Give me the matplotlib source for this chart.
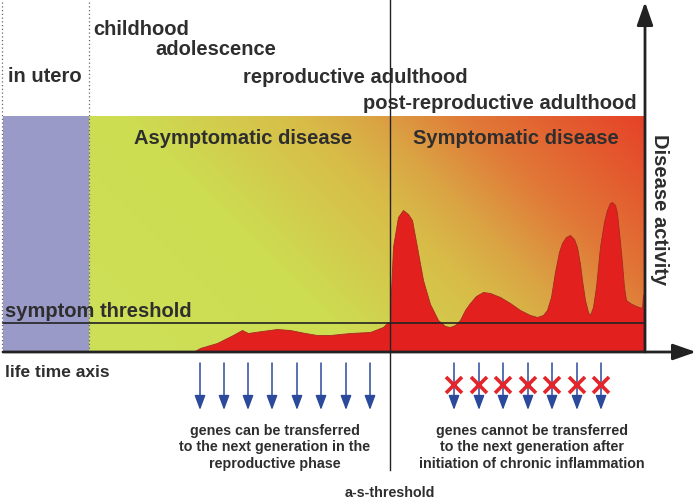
import numpy as np
import matplotlib
matplotlib.use("Agg")
import matplotlib.pyplot as plt
from matplotlib.colors import LinearSegmentedColormap

# ---------------- data (schematic units: x = life time, y = disease activity) -------------
life_x = [193, 200, 217, 233, 242, 248, 262, 277, 290, 305, 317, 330, 350, 370, 383, 388, 390,
          391, 393, 398, 403, 408, 412, 417, 423, 430, 438, 445, 450, 455, 460, 465, 470, 476,
          483, 490, 500, 510, 520, 530, 537, 543, 547, 551, 555, 559, 562, 566, 570, 574, 577,
          580, 582, 585, 588, 590, 593, 596, 600, 604, 607, 610, 612, 615, 617, 620, 622, 624,
          626, 630, 636, 642, 643, 645]
activity = [0, 4, 9, 17, 22, 19, 21, 23, 22, 19, 17, 17, 19, 20, 25, 30, 29,
            60, 105, 135, 142, 138, 132, 105, 72, 48, 32, 26, 25, 27, 32, 42, 49, 56,
            60, 59, 55, 49, 42, 37, 35, 37, 42, 55, 80, 100, 109, 115, 117, 113, 105,
            88, 72, 52, 40, 37, 45, 65, 105, 130, 142, 149, 150, 147, 139, 110, 89, 65,
            52, 49, 46, 44, 57, 60]

stage_labels = ["childhood", "adolescence", "reproductive adulthood", "post-reproductive adulthood"]
stage_x = [93, 155, 243, 363]
stage_y = [317, 297, 269, 243]

utero_start, utero_end = 3, 89
axis_end = 645
symptom_threshold = 29
as_threshold = 390
region_top = 236

left_arrows = [200, 224, 248, 272, 297, 321, 346, 370]
right_arrows = [454, 479, 503, 528, 552, 577, 601]

left_note = ["genes can be transferred", "to the next generation in the", "reproductive phase"]
right_note = ["genes cannot be transferred", "to the next generation after", "initiation of chronic inflammation"]

# ---------------- figure ----------------
fig = plt.figure(figsize=(7.0, 5.01), dpi=100)
ax = fig.add_axes([0, 0, 1, 1])
ax.set_xlim(0, 700)
ax.set_ylim(-149, 352)
ax.axis("off")

txt = "#2e2e2e"
font = dict(family=["Liberation Sans", "DejaVu Sans"], weight="bold", color=txt)

# in utero region
ax.add_patch(plt.Rectangle((utero_start, 0), utero_end - utero_start, region_top,
                           facecolor="#9a9ac9", edgecolor="none", zorder=1))

# gradient region
nx, ny = 400, 200
gx = np.linspace(utero_end, axis_end, nx)
gy = np.linspace(0, region_top, ny)
GX, GY = np.meshgrid(gx, gy)
s = (GX - utero_end) + GY * 1.0
stops = [(0, (205, 224, 88)), (270, (205, 221, 82)), (445, (216, 188, 72)),
         (515, (218, 165, 68)), (618, (225, 120, 55)), (792, (230, 66, 40))]
smax = 792.0
cmap = LinearSegmentedColormap.from_list(
    "g", [(p / smax, tuple(c / 255 for c in col)) for p, col in stops])
ax.imshow(s / smax, extent=[utero_end, axis_end, 0, region_top], origin="lower",
          cmap=cmap, vmin=0, vmax=1, aspect="auto", interpolation="bilinear", zorder=1)

# disease activity area
ax.fill_between(life_x, 0, activity, facecolor="#e2211f", edgecolor="#a52a20",
                linewidth=0.6, zorder=2)

# dotted separators
for xv in (2, utero_end):
    ax.plot([xv, xv], [0, 352], color="#666666", lw=0.9, ls=(0, (1, 2)), zorder=3)

# symptom threshold line
ax.plot([utero_start, axis_end], [symptom_threshold, symptom_threshold],
        color="#222222", lw=1.2, zorder=4)

# a-s-threshold line
ax.plot([as_threshold, as_threshold], [-118, 352], color="#222222", lw=1.0, zorder=4)

# axes with arrows
ax.annotate("", xy=(696, 0), xytext=(utero_start, 0),
            arrowprops=dict(arrowstyle="-|>,head_length=1.0,head_width=0.35",
                            color="#222222", lw=2, shrinkA=0, shrinkB=0,
                            mutation_scale=14), zorder=5)
ax.annotate("", xy=(axis_end, 350), xytext=(axis_end, 0),
            arrowprops=dict(arrowstyle="-|>,head_length=1.0,head_width=0.35",
                            color="#222222", lw=2, shrinkA=0, shrinkB=0,
                            mutation_scale=14), zorder=5)

# gene transfer arrows
blue = "#2c4a9c"
for xv in left_arrows + right_arrows:
    ax.annotate("", xy=(xv, -58), xytext=(xv, -11),
                arrowprops=dict(arrowstyle="-|>,head_length=0.8,head_width=0.3",
                                color=blue, lw=1.1, shrinkA=0, shrinkB=0,
                                mutation_scale=11), zorder=5)
ax.plot(right_arrows, [-33] * len(right_arrows), ls="none", marker="x", ms=11,
        mew=2.6, color="#e2262b", zorder=6)

# texts
for lab, xv, yv in zip(stage_labels, stage_x, stage_y):
    ax.text(xv, yv, lab, fontsize=14.5, ha="left", va="baseline", **font)
ax.text(8, 270, "in utero", fontsize=14.5, ha="left", va="baseline", **font)
ax.text(134, 208, "Asymptomatic disease", fontsize=14.5, ha="left", va="baseline", **font)
ax.text(413, 208, "Symptomatic disease", fontsize=14.5, ha="left", va="baseline", **font)
ax.text(659, 142, "Disease activity", fontsize=14.5, ha="center", va="center",
        rotation=270, **font)
ax.text(5, 35, "symptom threshold", fontsize=14.5, ha="left", va="baseline", **font)
ax.text(5, -25, "life time axis", fontsize=12.5, ha="left", va="baseline", **font)

for i, line in enumerate(left_note):
    ax.text(275, -83 - 16.5 * i, line, fontsize=10.3, ha="center", va="baseline", **font)
for i, line in enumerate(right_note):
    ax.text(532, -83 - 16.5 * i, line, fontsize=10.3, ha="center", va="baseline", **font)
ax.text(as_threshold, -145, "a-s-threshold", fontsize=10.3, ha="center", va="baseline", **font)

fig.savefig("out.png", dpi=100)
